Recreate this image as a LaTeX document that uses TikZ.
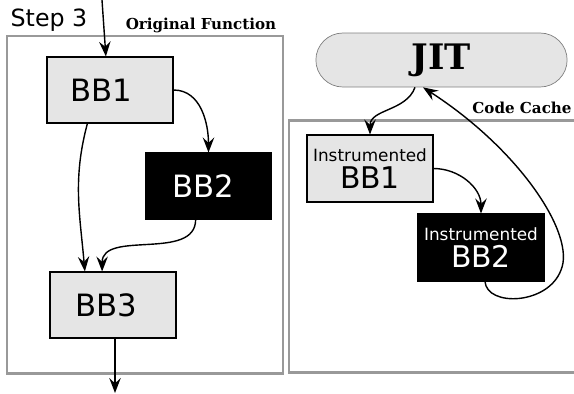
\documentclass[tikz,border=0pt]{standalone}
\usepackage{fontspec}
\setsansfont{DejaVu Sans}
\newfontfamily\slabfont{DejaVu Serif}
\usetikzlibrary{arrows.meta,shapes.misc}

\begin{document}
\begin{tikzpicture}[x=0.02cm,y=-0.02cm,
	bbox/.style={draw,fill=gray!20,line width=0.6pt,minimum width=2.52cm,minimum height=1.32cm,font=\sffamily\fontsize{17.5}{18}\selectfont},
	bbdark/.style={bbox,fill=black,text=white},
	frame/.style={draw=gray!80,line width=1.7pt},
	conn/.style={line width=0.8pt,-{Stealth[length=8.5pt,width=6.5pt,inset=3pt]}},
	slab/.style={font=\slabfont\bfseries\fontsize{8.6}{9}\selectfont}]
	\useasboundingbox (0,0) rectangle (574,393);
	\clip (0,0) rectangle (574,393);
	% left side
	\draw[frame] (7,36) rectangle (283,373);
	\node[font=\sffamily\fontsize{13.5}{14}\selectfont] (step) at (49,20) {Step 3};
	\node[slab] (orig) at (201,25) {Original Function};
	\node[bbox] (bb1) at (110,90) {BB1\hspace*{10pt}};
	\node[bbdark] (bb2) at (208.5,186) {BB2\hspace*{6pt}};
	\node[bbox] (bb3) at (113,305) {BB3\hspace*{8pt}};
	\coordinate (in) at (102,0);
	\coordinate (out) at (115,393);
	\draw[conn] (in) -- (bb1.97);
	\draw[conn] (bb1.east) to[out=0,in=90] (bb2.north);
	\draw[conn] (bb1.236) to[out=-105,in=95] (bb3.130);
	\draw[conn] (bb2.249) to[out=-90,in=90] (bb3.108);
	\draw[conn] (bb3.south -| out) -- (out);
	% right side
	\draw[frame] (289,120) rectangle (590,372);
	\node[slab] (cache) at (522,108) {Code Cache};
	\node[draw=gray,fill=gray!20,rounded rectangle,minimum width=5.26cm,minimum height=1.08cm,font=\slabfont\bfseries\fontsize{20}{21}\selectfont] (jit) at (441.5,60) {JIT};
	\node[bbox,minimum height=1.34cm,inner sep=1pt,align=center] (ibb1) at (370,168.5) {{\fontsize{9.6}{10}\selectfont Instrumented}\\[-3pt]{\fontsize{17}{17}\selectfont BB1}};
	\node[bbdark,minimum height=1.34cm,inner sep=1pt,align=center] (ibb2) at (481,247.5) {{\fontsize{9.6}{10}\selectfont Instrumented}\\[-3pt]{\fontsize{17}{17}\selectfont BB2}};
	\draw[conn] ([xshift=-0.53cm]jit.south) to[out=-110,in=90] (ibb1.north);
	\draw[conn] (ibb1.east) to[out=0,in=90] (ibb2.north);
	\draw[conn] ([xshift=0.08cm]ibb2.south) .. controls (487,307) and (548,305) .. (561,270) .. controls (576,235) and (520,150) .. ([xshift=-0.37cm]jit.south);
\end{tikzpicture}
\end{document}
